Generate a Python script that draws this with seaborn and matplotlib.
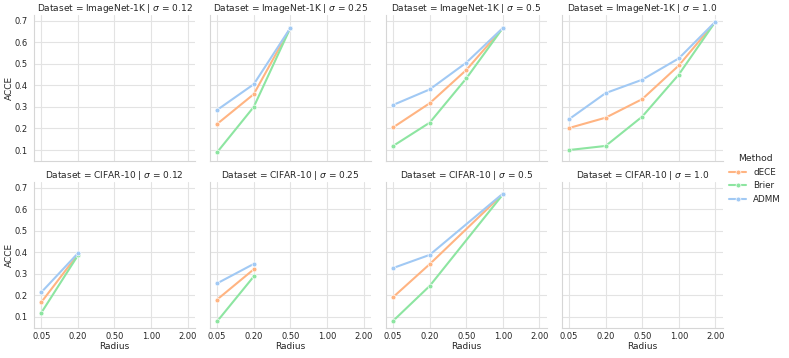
import pandas as pd
import matplotlib
matplotlib.use("Agg")
import matplotlib.pyplot as plt
import seaborn as sns

radius_labels = ["0.05", "0.20", "0.50", "1.00", "2.00"]
methods = ["dECE", "Brier", "ADMM"]
sigmas = [0.12, 0.25, 0.5, 1.0]
datasets = ["ImageNet-1K", "CIFAR-10"]

# ImageNet-1K
imagenet_025_radius = ["0.05", "0.20", "0.50"]
imagenet_025_dece = [0.221, 0.359, 0.666]
imagenet_025_brier = [0.090, 0.300, 0.666]
imagenet_025_admm = [0.286, 0.405, 0.666]

imagenet_05_radius = ["0.05", "0.20", "0.50", "1.00"]
imagenet_05_dece = [0.205, 0.317, 0.471, 0.666]
imagenet_05_brier = [0.119, 0.227, 0.432, 0.666]
imagenet_05_admm = [0.309, 0.381, 0.505, 0.666]

imagenet_10_radius = ["0.05", "0.20", "0.50", "1.00", "2.00"]
imagenet_10_dece = [0.202, 0.250, 0.336, 0.492, 0.695]
imagenet_10_brier = [0.100, 0.119, 0.255, 0.450, 0.695]
imagenet_10_admm = [0.243, 0.364, 0.426, 0.525, 0.695]

# CIFAR-10
cifar_012_radius = ["0.05", "0.20"]
cifar_012_dece = [0.168, 0.390]
cifar_012_brier = [0.119, 0.385]
cifar_012_admm = [0.214, 0.395]

cifar_025_radius = ["0.05", "0.20"]
cifar_025_dece = [0.181, 0.321]
cifar_025_brier = [0.080, 0.288]
cifar_025_admm = [0.256, 0.346]

cifar_05_radius = ["0.05", "0.20", "1.00"]
cifar_05_dece = [0.192, 0.345, 0.670]
cifar_05_brier = [0.082, 0.244, 0.668]
cifar_05_admm = [0.327, 0.388, 0.672]

series = [
    ("ImageNet-1K", 0.25, imagenet_025_radius, imagenet_025_dece, imagenet_025_brier, imagenet_025_admm),
    ("ImageNet-1K", 0.5, imagenet_05_radius, imagenet_05_dece, imagenet_05_brier, imagenet_05_admm),
    ("ImageNet-1K", 1.0, imagenet_10_radius, imagenet_10_dece, imagenet_10_brier, imagenet_10_admm),
    ("CIFAR-10", 0.12, cifar_012_radius, cifar_012_dece, cifar_012_brier, cifar_012_admm),
    ("CIFAR-10", 0.25, cifar_025_radius, cifar_025_dece, cifar_025_brier, cifar_025_admm),
    ("CIFAR-10", 0.5, cifar_05_radius, cifar_05_dece, cifar_05_brier, cifar_05_admm),
]

# radius is an ordinal axis: position = index in radius_labels
rows = []
for ds, sig, radii, *vals in series:
    for m, v in zip(methods, vals):
        for r, y in zip(radii, v):
            rows.append({"Dataset": ds, "$\\sigma$": sig, "Method": m,
                         "Radius": radius_labels.index(r), "ACCE": y})
df = pd.DataFrame(rows)

sns.set_theme(style="whitegrid")
plt.rcParams.update({
    "axes.titlesize": 6.5, "axes.labelsize": 6.5, "axes.titlepad": 3,
    "xtick.labelsize": 6, "ytick.labelsize": 6,
    "legend.fontsize": 6.3, "legend.title_fontsize": 6.7,
    "grid.color": "#e3e3e3", "grid.linewidth": 0.8,
    "axes.edgecolor": "#d6d6d6", "axes.linewidth": 0.8,
})

pal = sns.color_palette("pastel")
palette = {"dECE": pal[1], "Brier": pal[2], "ADMM": pal[0]}

g = sns.relplot(data=df, x="Radius", y="ACCE", hue="Method", hue_order=methods,
                row="Dataset", row_order=datasets, col="$\\sigma$", col_order=sigmas,
                kind="line", marker="o", markersize=3.5, markeredgecolor="white",
                markeredgewidth=0.5, linewidth=1.5, palette=palette,
                height=2, aspect=1.1)

for ax in g.axes.flat:
    ax.set_xticks(range(len(radius_labels)))
    ax.set_xticklabels(radius_labels)
    ax.set_xlim(-0.2, len(radius_labels) - 0.8)
    ax.tick_params(axis="x", length=0, pad=3)
    ax.tick_params(axis="y", length=0, pad=4.3)
g.set_axis_labels("Radius", "ACCE")
for ax in g.axes.flat:
    ax.xaxis.labelpad = 1
    ax.yaxis.set_label_coords(-0.125, 0.5)

g.figure.set_size_inches(7.89, 3.58)
g.figure.subplots_adjust(left=0.043, right=0.916, bottom=0.084, top=0.958,
                         wspace=0.093, hspace=0.144)
g._legend.set_bbox_to_anchor((1.0, 0.5), transform=g.figure.transFigure)
g.figure.savefig("out.png", dpi=100)
